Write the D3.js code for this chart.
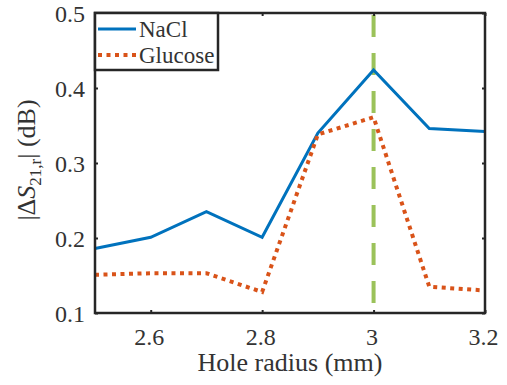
<!DOCTYPE html>
<html><head><meta charset="utf-8">
<script src="https://cdn.jsdelivr.net/npm/d3@7"></script>
<style>body{margin:0;background:#fff;} svg{display:block;} text{font-family:'Liberation Serif','Times New Roman',serif;}</style>
</head><body>
<svg id="c" width="507" height="385"></svg>
<script>
const radius = [2.5, 2.6, 2.7, 2.8, 2.9, 3.0, 3.1, 3.2];
const nacl = [0.186, 0.201, 0.235, 0.201, 0.340, 0.424, 0.346, 0.342];
const glucose = [0.151, 0.153, 0.153, 0.128, 0.338, 0.361, 0.135, 0.130];
const seriesNames = ["NaCl", "Glucose"];
const xTicks = [2.6, 2.8, 3.0, 3.2];
const yTicks = [0.1, 0.2, 0.3, 0.4, 0.5];
const markerX = 3.0;

const svg = d3.select("#c");
const L = 95, R = 485, T = 13, B = 313;
const x = d3.scaleLinear().domain([2.5, 3.2]).range([L, R]);
const y = d3.scaleLinear().domain([0.1, 0.5]).range([B, T]);
const font = "'Liberation Serif','Times New Roman',serif";
const ink = "#262626";

const line = d3.line().x((d,i)=>x(radius[i])).y(d=>y(d));

// marker line
svg.append("line").attr("x1", x(markerX)).attr("x2", x(markerX))
  .attr("y1", y(0.5)+2).attr("y2", y(0.1)-2)
  .attr("stroke", "#9bc25a").attr("stroke-width", 4)
  .attr("stroke-dasharray", "22 16");

svg.append("path").datum(nacl).attr("d", line).attr("fill","none")
  .attr("stroke","#0072BD").attr("stroke-width",3);
svg.append("path").datum(glucose).attr("d", line).attr("fill","none")
  .attr("stroke","#D95319").attr("stroke-width",4).attr("stroke-dasharray","4 4.5");

// axes
const axB = d3.axisBottom(x).tickValues(xTicks).tickSize(-3).tickFormat(d=>String(+d.toFixed(1)));
const axT = d3.axisTop(x).tickValues(xTicks).tickSize(-3).tickFormat("");
const axL = d3.axisLeft(y).tickValues(yTicks).tickSize(-3).tickFormat(d3.format(".1f"));
const axR = d3.axisRight(y).tickValues(yTicks).tickSize(-3).tickFormat("");
function style(g){
  g.attr("font-family", font).attr("font-size", 24);
  g.select(".domain").remove();
  g.selectAll(".tick line").attr("stroke",ink).attr("stroke-width",2);
  g.selectAll(".tick text").attr("fill","#333").style("font-family",font).style("font-size","24px");
}
svg.append("g").attr("transform",`translate(0,${B})`).call(axB).call(style)
  .selectAll(".tick text").attr("y",0).attr("dy",0).attr("transform","translate(-2,32)");
svg.append("g").attr("transform",`translate(0,${T})`).call(axT).call(style);
svg.append("g").attr("transform",`translate(${L},0)`).call(axL).call(style)
  .selectAll(".tick text").attr("x",-10).attr("dy","0.34em");
svg.append("g").attr("transform",`translate(${R},0)`).call(axR).call(style);

svg.append("rect").attr("x",L).attr("y",T).attr("width",R-L).attr("height",B-T)
  .attr("fill","none").attr("stroke",ink).attr("stroke-width",2.5);

// legend
const lg = svg.append("g");
lg.append("rect").attr("x",L).attr("y",T).attr("width",123).attr("height",57)
  .attr("fill","#fff").attr("stroke",ink).attr("stroke-width",2.5);
const lgCol = ["#0072BD","#D95319"], lgDash=[null,"4 4.5"], lgW=[3,4];
seriesNames.forEach((n,i)=>{
  const yy = T + 16 + i*26;
  lg.append("line").attr("x1",L+3).attr("x2",L+41).attr("y1",yy).attr("y2",yy)
    .attr("stroke",lgCol[i]).attr("stroke-width",lgW[i]).attr("stroke-dasharray",lgDash[i]);
  lg.append("text").attr("x",L+44).attr("y",yy).attr("dy","0.34em")
    .style("font-family",font).style("font-size","23px").attr("fill","#333").text(n);
});

// axis labels
svg.append("text").attr("x",(L+R)/2).attr("y",371).attr("text-anchor","middle")
  .style("font-family",font).style("font-size","26px").attr("fill","#333").text("Hole radius (mm)");

const yl = svg.append("text").attr("transform",`translate(35,${(T+B)/2 - 3}) rotate(-90)`)
  .attr("text-anchor","middle").style("font-family",font).style("font-size","26px").attr("fill","#333");
yl.append("tspan").text("|Δ");
yl.append("tspan").attr("font-style","italic").text("S");
yl.append("tspan").style("font-size","17px").attr("dy",6).text("21,r");
yl.append("tspan").attr("dy",-6).text("| (dB)");
</script>
</body></html>
